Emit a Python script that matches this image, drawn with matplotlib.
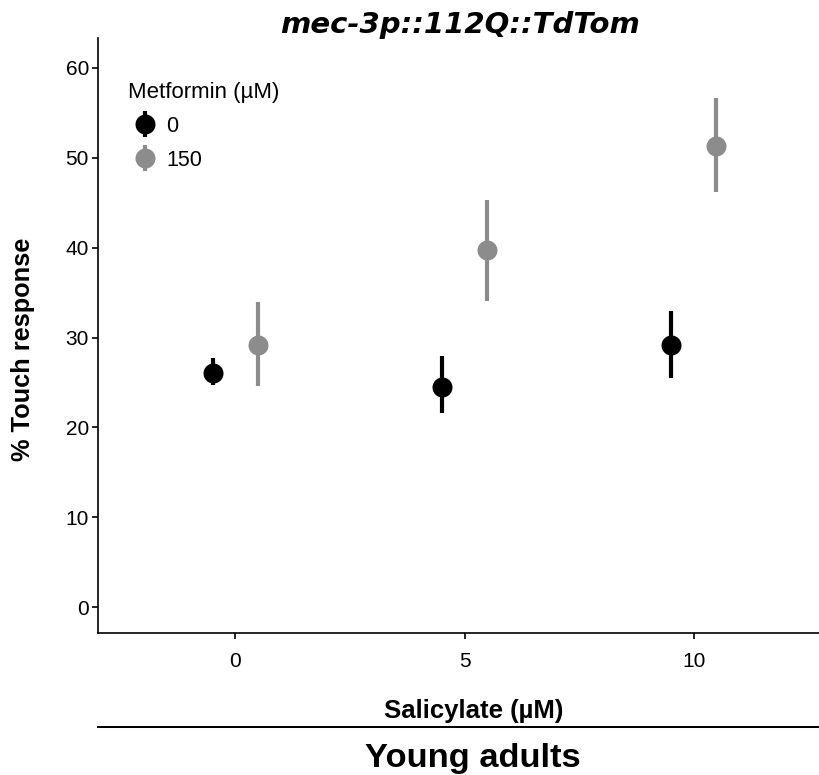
import matplotlib
matplotlib.use("Agg")
import matplotlib.pyplot as plt
from matplotlib.legend_handler import HandlerErrorbar
from matplotlib.container import ErrorbarContainer
from matplotlib.lines import Line2D
import numpy as np

# ---- data ----
salicylate_labels = ["0", "5", "10"]
metformin_levels = ["0", "150"]
mean_met0 = [26.1, 24.5, 29.2]
low_met0 = [24.7, 21.6, 25.5]
high_met0 = [27.7, 27.9, 33.0]
mean_met150 = [29.15, 39.7, 51.3]
low_met150 = [24.6, 34.1, 46.2]
high_met150 = [33.9, 45.3, 56.6]
y_ticks = [0, 10, 20, 30, 40, 50, 60]

plt.rcParams['font.family'] = ['Liberation Sans', 'DejaVu Sans']

W, H = 819, 775
fig = plt.figure(figsize=(W / 100, H / 100), dpi=100)
ax = fig.add_axes([98 / W, 1 - 633 / H, 733 / W, 595 / H])

x = np.arange(len(salicylate_labels))
dodge = 0.1
colors = ["#000000", "#8c8c8c"]
series = [(mean_met0, low_met0, high_met0), (mean_met150, low_met150, high_met150)]
handles = []
for i, (m, lo, hi) in enumerate(series):
    m = np.array(m); lo = np.array(lo); hi = np.array(hi)
    eb = ax.errorbar(x + (i - 0.5) * 2 * dodge, m, yerr=[m - lo, hi - m], fmt='o',
                     color=colors[i], ms=14.4, elinewidth=3, capsize=0,
                     markeredgewidth=0, label=metformin_levels[i])
    handles.append(eb)

ax.set_xlim(-0.6, 2.6)
ax.set_ylim(-2.85, 63.3)
ax.set_xticks(x)
ax.set_xticklabels(salicylate_labels)
ax.set_yticks(y_ticks)
for s in ['top', 'right']:
    ax.spines[s].set_visible(False)
for s in ['left', 'bottom']:
    ax.spines[s].set_linewidth(1.2)
ax.tick_params(axis='both', length=4.5, width=1.2, labelsize=15, colors='black')
ax.tick_params(axis='x', pad=9)
ax.tick_params(axis='y', pad=2)

ax.legend(handles=handles, labels=metformin_levels, title="Metformin (µM)",
          loc='upper left', bbox_to_anchor=(128 / W, 1 - 82 / H),
          bbox_transform=fig.transFigure, frameon=False, fontsize=15.5,
          title_fontsize=16, borderpad=0, borderaxespad=0, handlelength=1.58,
          handletextpad=0.2, labelspacing=0.6, alignment='left',
          handler_map={ErrorbarContainer: HandlerErrorbar(yerr_size=0.6)})

fig.text(460 / W, 1 - 33 / H, "mec-3p::112Q::TdTom", fontsize=21, fontweight='bold',
         fontstyle='italic', family=['DejaVu Sans'], ha='center', va='baseline')
fig.text(23 / W, 1 - 349 / H, "% Touch response", rotation=90, fontsize=18.3,
         fontweight='bold', ha='center', va='center')
fig.text(474 / W, 1 - 718 / H, "Salicylate (µM)", fontsize=18.5, fontweight='bold',
         ha='center', va='baseline')
fig.add_artist(Line2D([98 / W, 1.0], [1 - 726.7 / H] * 2, color='black', lw=1.45))
fig.text(473 / W, 1 - 766.7 / H, "Young adults", fontsize=24.8, fontweight='bold',
         ha='center', va='baseline')

fig.savefig("out.png", dpi=100)
